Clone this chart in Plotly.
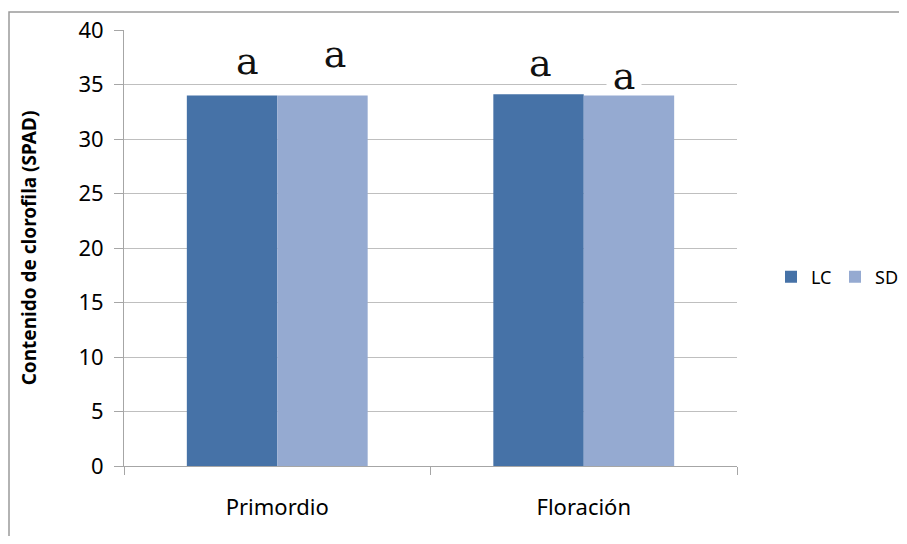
import plotly.graph_objects as go

categories = ["Primordio", "Floración"]
series_names = ["LC", "SD"]
lc_values = [34.0, 34.1]
sd_values = [34.0, 34.0]
letters_lc = ["a", "a"]
letters_sd = ["a", "a"]
y_ticks = [0, 5, 10, 15, 20, 25, 30, 35, 40]

colors = {"LC": "#4672A7", "SD": "#95AAD1"}

# letter placement (pixel offsets from category centre / bar top)
lc_xshift = [-30, -43]
lc_yshift = [34, 31]
sd_xshift = [58, 40]
sd_yshift = [41, 19]
sd_bg = ["rgba(0,0,0,0)", "white"]
lc_bg = ["rgba(0,0,0,0)", "rgba(0,0,0,0)"]

fig = go.Figure()
fig.add_trace(go.Bar(name=series_names[0], x=categories, y=lc_values, legend="legend",
                     marker=dict(color=colors["LC"], line=dict(width=0))))
fig.add_trace(go.Bar(name=series_names[1], x=categories, y=sd_values, legend="legend2",
                     marker=dict(color=colors["SD"], line=dict(width=0))))

annotations = []
for i, c in enumerate(categories):
    annotations.append(dict(x=c, y=lc_values[i], xref="x", yref="y", text=letters_lc[i],
                            showarrow=False, xshift=lc_xshift[i], yshift=lc_yshift[i],
                            yanchor="middle", bgcolor=lc_bg[i], borderpad=0,
                            font=dict(family="DejaVu Serif", size=38, color="#111111")))
    annotations.append(dict(x=c, y=sd_values[i], xref="x", yref="y", text=letters_sd[i],
                            showarrow=False, xshift=sd_xshift[i], yshift=sd_yshift[i],
                            yanchor="middle", bgcolor=sd_bg[i], borderpad=0,
                            height=30, width=34, valign="middle",
                            font=dict(family="DejaVu Serif", size=38, color="#111111")))

# page body adds an 8px offset; keep the figure inside the viewport
OFF = 8
W, H = 907 - 2 * OFF, 544 - 2 * OFF
L, T = 124 - OFF, 30 - OFF
R = W - (737 - OFF)
B = H - (466 - OFF)
pw, ph = W - L - R, H - T - B

def px2paper_x(px):
    return (px - OFF - L) / pw

def px2paper_y(py):
    return (H - B - (py - OFF)) / ph

legend_style = dict(orientation="v", xanchor="left", yanchor="middle",
                    font=dict(family="Noto Sans", size=18, color="#000000"),
                    bgcolor="rgba(0,0,0,0)", itemclick=False, borderwidth=0)

fig.update_layout(
    width=W, height=H,
    margin=dict(l=L, r=R, t=T, b=B, autoexpand=False),
    paper_bgcolor="white", plot_bgcolor="white",
    barmode="group", bargap=0.41, bargroupgap=0,
    font=dict(family="Noto Sans", color="#000000"),
    showlegend=True,
    legend=dict(x=px2paper_x(771), y=px2paper_y(277), **legend_style),
    legend2=dict(x=px2paper_x(835), y=px2paper_y(277), **legend_style),
    annotations=annotations,
    shapes=[dict(type="rect", xref="paper", yref="paper",
                 x0=px2paper_x(9), x1=px2paper_x(930),
                 y0=px2paper_y(570), y1=px2paper_y(12),
                 line=dict(color="#9a9a9a", width=1.5), layer="below")],
)

fig.update_yaxes(range=[0, 40], tickvals=y_ticks, ticktext=[str(v) for v in y_ticks],
                 showgrid=True, gridcolor="#bfbfbf", gridwidth=1,
                 showline=True, linecolor="#a6a6a6", linewidth=1,
                 ticks="outside", ticklen=9, tickcolor="#a6a6a6",
                 ticklabelstandoff=6,
                 tickfont=dict(family="Noto Sans", size=22, color="#000000"),
                 zeroline=False,
                 title=dict(text="<b>Contenido de clorofila (SPAD)</b>",
                            font=dict(family="Noto Sans", size=19, color="#000000"),
                            standoff=36))
fig.update_xaxes(showline=True, linecolor="#a6a6a6", linewidth=1,
                 ticks="outside", ticklen=8, tickcolor="#a6a6a6", tickson="boundaries",
                 ticklabelstandoff=22,
                 tickfont=dict(family="Noto Sans", size=22, color="#000000"),
                 showgrid=False)

fig.write_html("out.html")
